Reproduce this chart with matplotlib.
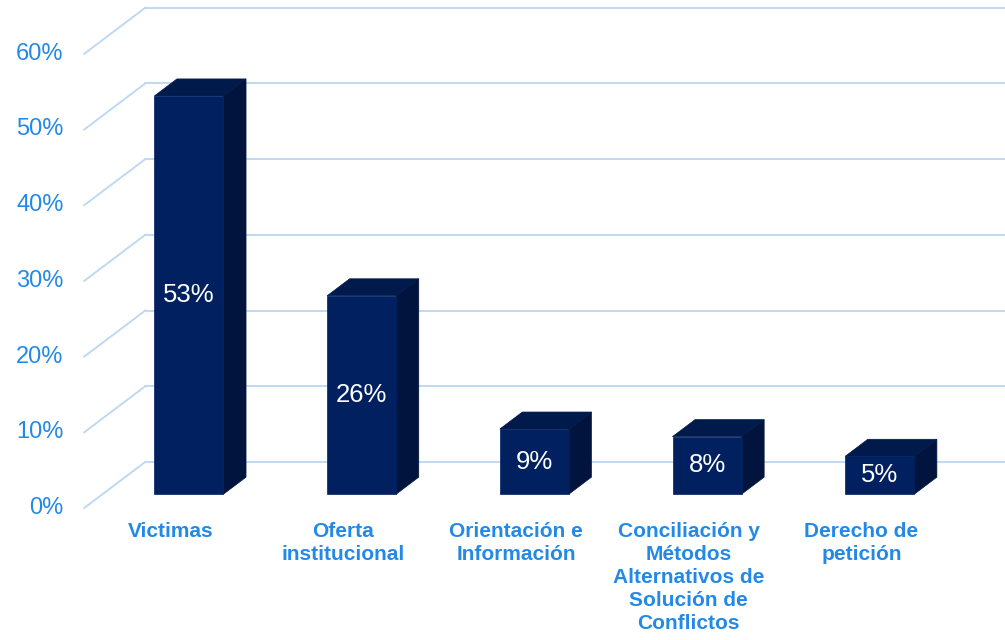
import matplotlib
matplotlib.use('Agg')
import matplotlib.pyplot as plt
from matplotlib.patches import Polygon

# данные диаграммы
categories = ['Victimas', 'Oferta\ninstitucional', 'Orientación e\nInformación',
	'Conciliación y\nMétodos\nAlternativos de\nSolución de\nConflictos', 'Derecho de\npetición']
values = [52.6, 26.2, 8.6, 7.6, 5.0]
yticks = [0, 10, 20, 30, 40, 50, 60]

# параметры "3D" проекции (глубина сцены в единицах осей)
DX = 0.353   # смещение по x на всю глубину
DY = 6.08    # смещение по y на всю глубину
z0, z1 = 0.30, 0.67   # положение бара по глубине
half = 0.2            # полуширина бара

grid_color = '#bfd9f2'
tick_color = '#2389e8'
front_c = '#002060'
top_c = '#001a4b'
side_c = '#00143d'

plt.rcParams['font.family'] = ['Liberation Sans', 'DejaVu Sans']

fig = plt.figure(figsize=(10.05, 6.4), dpi=100)
ax = fig.add_axes([0, 0, 1, 1])
ax.set_xlim(-0.988, 4.831)
ax.set_ylim(-17.44, 67.1)
ax.set_axis_off()

x_left = -0.5
x_right = len(categories) - 0.5

# сетка: задняя стенка и диагонали слева
for t in yticks:
	ax.plot([x_left + DX, x_right + DX], [t + DY, t + DY], color=grid_color, lw=1.4, zorder=1)
	ax.plot([x_left, x_left + DX], [t, t + DY], color=grid_color, lw=1.4, zorder=1)
	ax.annotate('%d%%' % t, (x_left, t), xytext=(-15, 0), textcoords='offset points',
		ha='right', va='center', fontsize=17, color=tick_color)

# бары
for i, v in enumerate(values):
	xl = i - half
	xr = i + half
	front = [(xl + z0 * DX, z0 * DY), (xr + z0 * DX, z0 * DY),
		(xr + z0 * DX, v + z0 * DY), (xl + z0 * DX, v + z0 * DY)]
	side = [(xr + z0 * DX, z0 * DY), (xr + z1 * DX, z1 * DY),
		(xr + z1 * DX, v + z1 * DY), (xr + z0 * DX, v + z0 * DY)]
	top = [(xl + z0 * DX, v + z0 * DY), (xr + z0 * DX, v + z0 * DY),
		(xr + z1 * DX, v + z1 * DY), (xl + z1 * DX, v + z1 * DY)]
	ax.add_patch(Polygon(side, closed=True, facecolor=side_c, edgecolor=side_c, lw=0.5, zorder=3))
	ax.add_patch(Polygon(top, closed=True, facecolor=top_c, edgecolor=top_c, lw=0.5, zorder=3))
	ax.add_patch(Polygon(front, closed=True, facecolor=front_c, edgecolor=front_c, lw=0.5, zorder=4))
	# подпись значения в центре передней грани
	ax.text(i + z0 * DX, z0 * DY + v / 2, '%.0f%%' % v, ha='center', va='center',
		fontsize=18.5, color='white', zorder=5)
	# подпись категории
	ax.annotate(categories[i], (i, 0), xytext=(0, -10), textcoords='offset points',
		ha='center', va='top', fontsize=15, fontweight='bold', color=tick_color,
		linespacing=1.27)

fig.savefig('out.png', dpi=100, facecolor='white')
